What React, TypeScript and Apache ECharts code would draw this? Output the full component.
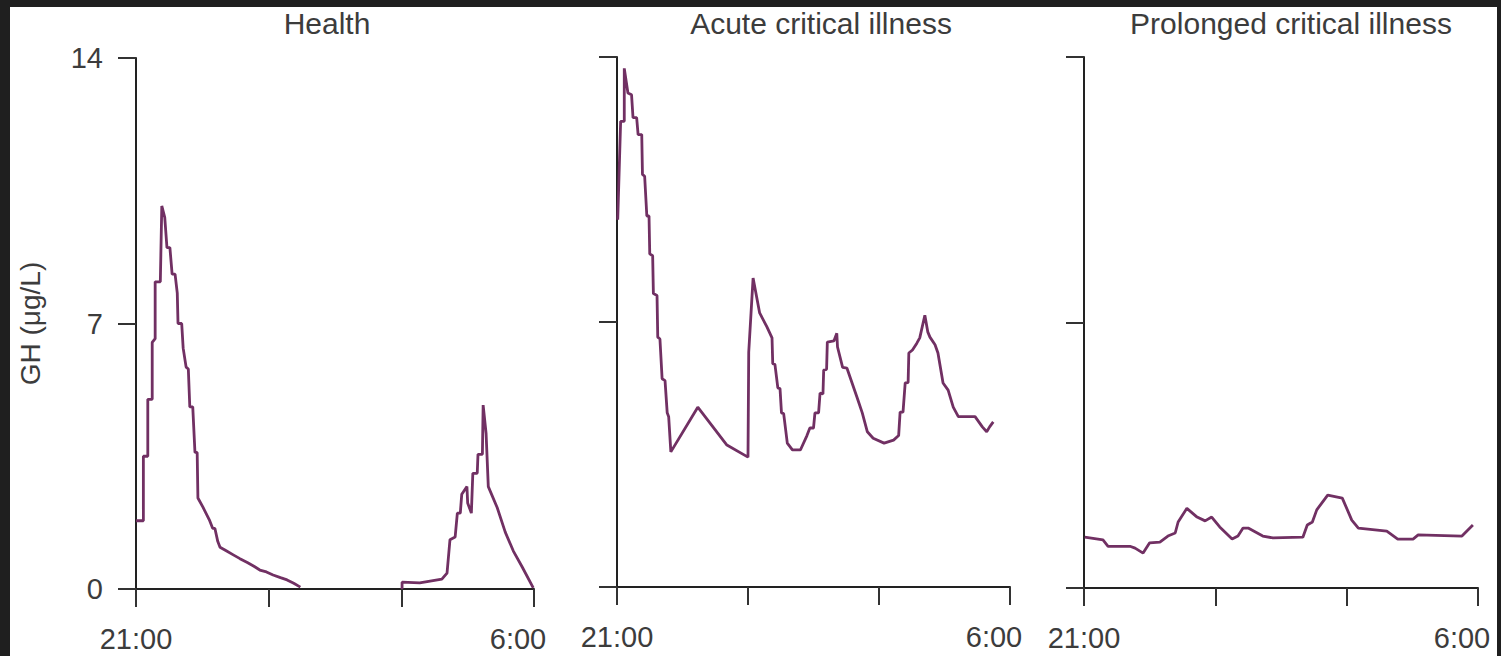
import React, { useEffect, useRef } from "react";
import * as echarts from "echarts";

// Panel titles
const panelTitles = ["Health", "Acute critical illness", "Prolonged critical illness"];
// Time axis: minutes after 21:00 (0..540 = 21:00..6:00)
const timeTicks = [0, 180, 360, 540];
const timeLabels: Record<number, string> = { 0: "21:00", 540: "6:00" };
const ghTicks = [0, 7, 14];

// GH (µg/L) vs minutes after 21:00
const healthEarly: [number, number][] = [
  [0, 1.8], [10, 1.8], [10, 3.5], [16, 3.5], [16, 5.0], [22, 5.0], [22, 6.5], [26, 6.6], [26, 8.1],
  [33, 8.1], [35, 10.1], [39, 9.8], [42, 9.0], [46, 9.0], [49, 8.3], [53, 8.3], [56, 7.8], [57, 7.0],
  [62, 7.0], [64, 6.35], [68, 5.85], [71, 5.8], [73, 4.8], [77, 4.8], [80, 3.6], [83, 3.6], [84, 2.4],
  [91, 2.15], [100, 1.8], [104, 1.6], [107, 1.6], [111, 1.25], [114, 1.1], [123, 1.0], [132, 0.9],
  [141, 0.8], [151, 0.7], [160, 0.6], [168, 0.5], [177, 0.45], [186, 0.37], [196, 0.3], [205, 0.24],
  [214, 0.15], [223, 0.05],
];
const healthLate: [number, number][] = [
  [361, 0], [361, 0.18], [385, 0.16], [415, 0.26], [422, 0.42], [426, 1.3], [433, 1.37], [436, 2.0],
  [440, 2.0], [442, 2.5], [449, 2.7], [450, 2.27], [455, 2.0], [457, 3.05], [463, 3.05], [464, 3.55],
  [470, 3.55], [471, 4.85], [475, 4.1], [478, 2.7], [490, 2.15], [501, 1.5], [512, 1.0], [524, 0.58],
  [539, 0.03],
];
const acute: [number, number][] = [
  [1, 9.7], [5, 12.3], [10, 12.3], [10, 13.7], [15, 13.05], [20, 13.0], [22, 12.4], [27, 12.4],
  [29, 11.95], [34, 11.95], [35, 10.9], [38, 10.85], [41, 9.8], [44, 9.8], [45, 8.8], [49, 8.75],
  [50, 7.75], [55, 7.7], [56, 6.6], [59, 6.55], [62, 5.5], [66, 5.45], [69, 4.6], [71, 4.5], [74, 3.57],
  [111, 4.75], [151, 3.75], [180, 3.43], [181, 6.2], [187, 8.16], [196, 7.24], [206, 6.87], [213, 6.58],
  [214, 5.9], [217, 5.88], [221, 5.26], [224, 5.24], [226, 4.6], [229, 4.58], [234, 3.8], [241, 3.62],
  [252, 3.62], [261, 4.0], [265, 4.2], [270, 4.2], [272, 4.6], [277, 4.6], [279, 5.12], [283, 5.1],
  [284, 5.73], [288, 5.75], [289, 6.47], [298, 6.5], [302, 6.7], [303, 6.34], [310, 5.8], [316, 5.78],
  [323, 5.39], [330, 5.0], [337, 4.6], [344, 4.1], [352, 3.93], [367, 3.8], [380, 3.88], [387, 4.0],
  [389, 4.62], [393, 4.62], [396, 5.39], [400, 5.4], [401, 6.18], [406, 6.26], [412, 6.44], [416, 6.58],
  [423, 7.18], [427, 6.74], [430, 6.6], [437, 6.4], [441, 6.18], [448, 5.39], [455, 5.2], [462, 4.75],
  [469, 4.5], [492, 4.5], [502, 4.23], [508, 4.1], [512, 4.23], [517, 4.36],
];
const prolonged: [number, number][] = [
  [1, 1.34], [26, 1.27], [33, 1.1], [63, 1.1], [70, 1.05], [81, 0.92], [90, 1.19], [104, 1.21],
  [115, 1.37], [125, 1.45], [129, 1.74], [141, 2.1], [155, 1.87], [166, 1.77], [175, 1.87], [186, 1.61],
  [203, 1.29], [211, 1.37], [218, 1.58], [225, 1.58], [245, 1.37], [259, 1.32], [300, 1.34], [306, 1.66],
  [313, 1.74], [319, 2.06], [334, 2.45], [354, 2.37], [367, 1.79], [376, 1.58], [415, 1.5], [430, 1.29],
  [451, 1.29], [458, 1.4], [518, 1.37], [533, 1.66],
];

const FONT = '"Liberation Sans", Arial, Helvetica, sans-serif';
const TEXT = "#3c3c3c";
const AXIS = "#222";
const LINE = "#713063";

export default function App() {
  const ref = useRef<HTMLDivElement>(null);
  useEffect(() => {
    if (!ref.current) return;
    const chart = echarts.init(ref.current, null, { renderer: "svg" });
    const grids = [
      { left: 136, top: 58, width: 398, height: 531 },
      { left: 617, top: 57, width: 393, height: 530 },
      { left: 1084, top: 57, width: 394, height: 531 },
    ];
    const titleX = [327, 821, 1291];
    const xAxis = grids.map((_, i) => ({
      type: "value",
      gridIndex: i,
      min: timeTicks[0],
      max: timeTicks[timeTicks.length - 1],
      interval: timeTicks[1] - timeTicks[0],
      axisLine: { show: true, onZero: false, lineStyle: { color: AXIS, width: 2 } },
      axisTick: { show: true, length: 18, lineStyle: { color: "#333", width: 2 } },
      splitLine: { show: false },
      axisLabel: {
        show: true,
        margin: 35,
        showMinLabel: true,
        showMaxLabel: true,
        formatter: (v: number) =>
          v === timeTicks[0] ? `{a|${timeLabels[v]}}` : v === timeTicks[timeTicks.length - 1] ? `{b|${timeLabels[v]}}` : "",
        rich: {
          a: { fontSize: 29, color: TEXT, fontFamily: FONT },
          b: { fontSize: 29, color: TEXT, fontFamily: FONT, padding: [0, 32, 0, 0] },
        },
      },
    }));
    const yAxis = grids.map((_, i) => ({
      type: "value",
      gridIndex: i,
      min: ghTicks[0],
      max: ghTicks[ghTicks.length - 1],
      interval: ghTicks[1] - ghTicks[0],
      name: i === 0 ? "GH (μg/L)" : "",
      nameLocation: "middle",
      nameRotate: 90,
      nameGap: 92,
      nameTextStyle: { fontSize: 28, color: TEXT, fontFamily: FONT },
      axisLine: { show: true, lineStyle: { color: AXIS, width: 2 } },
      axisTick: { show: true, length: 18, lineStyle: { color: "#333", width: 2 } },
      splitLine: { show: false },
      axisLabel: { show: i === 0, margin: 33, fontSize: 29, color: TEXT, fontFamily: FONT },
    }));
    const seriesData = [
      { data: healthEarly, idx: 0 },
      { data: healthLate, idx: 0 },
      { data: acute, idx: 1 },
      { data: prolonged, idx: 2 },
    ];
    chart.setOption({
      animation: false,
      backgroundColor: "#ffffff",
      grid: grids.map((g) => ({ ...g, containLabel: false, outerBoundsMode: "none" })),
      xAxis,
      yAxis,
      series: seriesData.map((s) => ({
        type: "line",
        xAxisIndex: s.idx,
        yAxisIndex: s.idx,
        data: s.data,
        showSymbol: false,
        symbol: "none",
        lineStyle: { color: LINE, width: 2.8 },
        z: 3,
      })),
      graphic: [
        ...panelTitles.map((t, i) => ({
          type: "text",
          x: titleX[i],
          y: 23,
          style: {
            text: t,
            fontSize: 30,
            fontFamily: FONT,
            fill: TEXT,
            textAlign: "center",
            textVerticalAlign: "middle",
          },
        })),
        { type: "rect", z: 100, shape: { x: 0, y: 0, width: 1501, height: 7 }, style: { fill: "#1f1f1f" } },
        { type: "rect", z: 100, shape: { x: 0, y: 0, width: 10, height: 656 }, style: { fill: "#1f1f1f" } },
        { type: "rect", z: 100, shape: { x: 1497, y: 0, width: 4, height: 656 }, style: { fill: "#1f1f1f" } },
      ],
    });
    return () => chart.dispose();
  }, []);
  return (
    <div
      ref={ref}
      style={{ position: "fixed", left: 0, top: 0, width: 1501, height: 656, background: "#fff" }}
    />
  );
}
